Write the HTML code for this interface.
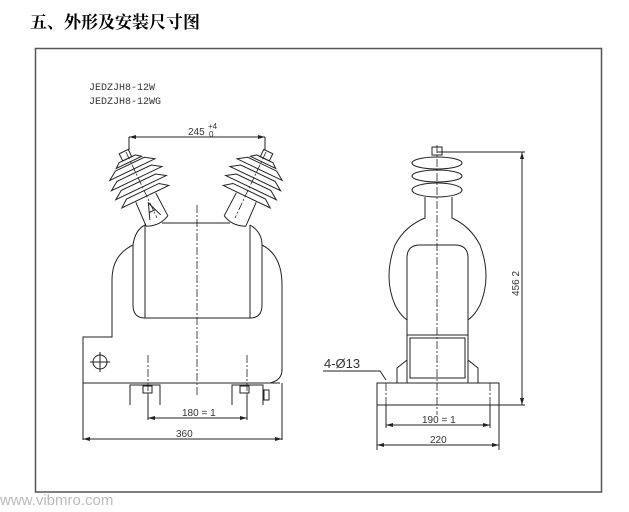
<!DOCTYPE html>
<html><head><meta charset="utf-8"><style>
body{margin:0;background:#fff;width:629px;height:512px;overflow:hidden}
svg{display:block}
</style></head><body>
<svg width="629" height="512" viewBox="0 0 629 512" xmlns="http://www.w3.org/2000/svg">
<text x="30" y="28" font-family="'Noto Serif CJK SC','Noto Sans CJK SC',serif" font-weight="bold" font-size="17" fill="#000">五、外形及安装尺寸图</text>
<rect x="35.5" y="48.5" width="566" height="443.5" fill="none" stroke="#555" stroke-width="1.5"/>
<text x="0" y="505" font-family="'Liberation Sans',sans-serif" font-size="15" fill="#bbb">www.vibmro.com</text>
<g font-family="'Liberation Mono',monospace" font-size="10" fill="#333">
<text x="89" y="90">JEDZJH8-12W</text>
<text x="89" y="104">JEDZJH8-12WG</text>
</g>
<g fill="none" stroke="#222" stroke-width="1">
<line x1="129" y1="137" x2="265" y2="137"/>
<line x1="129" y1="137" x2="129" y2="150"/><line x1="265" y1="137" x2="265" y2="150"/>
<path d="M162 223 L230 223 M145 225 L145 318 L250 318 L250 225"/>
<path d="M145 225 Q135 230 133 245 Q112 255 112 280 L112 337 L83 337 L83 440 M250 225 Q262 232 262 245 Q282 255 282 285 L282 370 Q282 380 270 383"/>
<path d="M133 245 L133 305 Q133 318 145 318 M262 245 L262 305 Q262 318 250 318"/>
<line x1="83" y1="383" x2="280" y2="383"/>
<line x1="282" y1="383" x2="282" y2="440"/>
<circle cx="100" cy="362" r="7"/><line x1="90" y1="362" x2="110" y2="362"/><line x1="100" y1="352" x2="100" y2="372"/>
<g transform="translate(157 221) rotate(-25.6)">
<path d="M-12 0 Q0 6 12 0 L11 -26 M-12 0 L-11 -26"/>
<path d="M-26 -27 L26 -27 L18 -33 L-18 -33 Z M-28 -37 L28 -37 L19 -43 L-19 -43 Z M-28 -47 L28 -47 L19 -53 L-19 -53 Z M-25 -57 L25 -57 L16 -63 L-16 -63 Z M-14 -65 L14 -65 L9 -69 L-9 -69 Z"/>
<rect x="-5" y="-77" width="10" height="8"/>
<path d="M-6 -4 L0 -20 L6 -4 M-3 -11 L3 -11"/>
</g>
<g transform="translate(235 221) rotate(25.6)">
<path d="M-12 0 Q0 6 12 0 L11 -26 M-12 0 L-11 -26"/>
<path d="M-26 -27 L26 -27 L18 -33 L-18 -33 Z M-28 -37 L28 -37 L19 -43 L-19 -43 Z M-28 -47 L28 -47 L19 -53 L-19 -53 Z M-25 -57 L25 -57 L16 -63 L-16 -63 Z M-14 -65 L14 -65 L9 -69 L-9 -69 Z"/>
<rect x="-5" y="-77" width="10" height="8"/>
</g>
<path d="M130 405 L130 385 L160 385 L160 405 M232 405 L232 385 L263 385 L263 405"/>
<rect x="143" y="386" width="9" height="7"/><rect x="240" y="386" width="9" height="7"/>
<rect x="264" y="390" width="5" height="10"/>
<line x1="148" y1="395" x2="148" y2="420"/><line x1="247" y1="395" x2="247" y2="420"/>
<line x1="148" y1="418" x2="247" y2="418"/>
<line x1="83" y1="439" x2="282" y2="439"/>
<line x1="437" y1="152" x2="525" y2="152"/>
<line x1="522" y1="152" x2="522" y2="405"/>
<line x1="377" y1="405" x2="525" y2="405"/>
<rect x="432" y="147" width="10" height="8"/>
<ellipse cx="437" cy="163" rx="25" ry="6"/>
<ellipse cx="437" cy="176" rx="25" ry="6"/>
<ellipse cx="437" cy="190" rx="25" ry="7"/>
<path d="M425 197 L425 218 Q405 226 395 245 Q383 277 395 305 Q400 315 407 320 M452 197 L452 218 Q470 226 480 245 Q492 277 480 305 Q475 315 468 320"/>
<path d="M407 335 L407 258 Q407 245 420 245 L455 245 Q468 245 468 258 L468 335"/>
<rect x="407" y="335" width="61" height="48"/>
<rect x="410" y="338" width="55" height="40"/>
<path d="M397 383 L397 368 L407 360 M478 383 L478 368 L468 360"/>
<rect x="377" y="383" width="122" height="22"/>
<line x1="377" y1="405" x2="377" y2="450"/><line x1="499" y1="405" x2="499" y2="450"/>
<line x1="386" y1="405" x2="386" y2="428"/><line x1="490" y1="405" x2="490" y2="428"/>
<line x1="386" y1="425" x2="490" y2="425"/>
<line x1="377" y1="445" x2="499" y2="445"/>
<path d="M323 371 L380 371 L386 380"/>
</g>
<g stroke="#222" stroke-width="0.8" stroke-dasharray="8,2,2,2" fill="none">
<line x1="197" y1="205" x2="197" y2="395"/>
<line x1="148" y1="355" x2="148" y2="395"/><line x1="247" y1="355" x2="247" y2="395"/>
<line x1="437" y1="145" x2="437" y2="415"/>
<line x1="386" y1="383" x2="386" y2="405"/><line x1="490" y1="383" x2="490" y2="405"/>
<line x1="126" y1="152" x2="157" y2="218"/><line x1="266" y1="152" x2="235" y2="218"/>
</g>
<g fill="#222">
<path d="M129 137 l7 -2 v4z M265 137 l-7 -2 v4z M148 418 l7 -2 v4z M247 418 l-7 -2 v4z M83 439 l7 -2 v4z M282 439 l-7 -2 v4z M522 152 l-2 7 h4z M522 405 l-2 -7 h4z M386 425 l7 -2 v4z M490 425 l-7 -2 v4z M377 445 l7 -2 v4z M499 445 l-7 -2 v4z"/>
</g>
<g font-family="'Liberation Sans Narrow','Liberation Sans',sans-serif" font-size="10" fill="#333">
<text x="188" y="135">245</text><text x="208" y="129" font-size="8">+4</text><text x="209" y="137" font-size="8">0</text>
<text x="182" y="416">180 = 1</text>
<text x="176" y="437">360</text>
<text x="422" y="423">190 = 1</text>
<text x="430" y="443">220</text>
<text transform="translate(519 296) rotate(-90)">456  2</text>
<text x="324" y="368" font-size="13">4-Ø13</text>
</g>
</svg>
</body></html>
